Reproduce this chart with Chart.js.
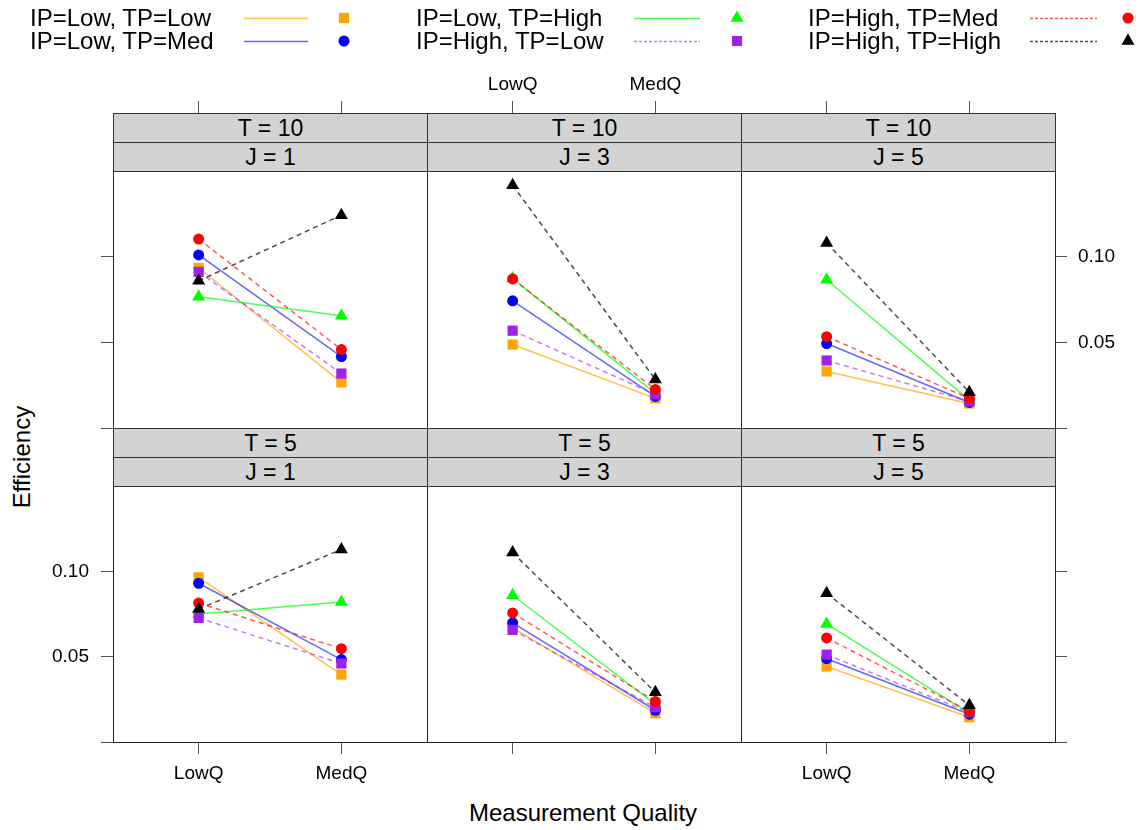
<!DOCTYPE html>
<html>
<head>
<meta charset="utf-8">
<title>Efficiency by measurement quality</title>
<script src="https://cdn.jsdelivr.net/npm/chart.js@4.4.0/dist/chart.umd.min.js"></script>
<style>
  body { margin: 0; background: #fff; font-family: "Liberation Sans", Arial, sans-serif; }
  #page { position: relative; width: 1144px; height: 830px; overflow: hidden; }
  canvas.panel { position: absolute; z-index: 1; }
  .strip { position: absolute; z-index: 2; background: #d3d3d3; border: 1px solid #333;
           box-sizing: border-box; text-align: center; font-size: 23px; color: #000; }
  .leg { position: absolute; font-size: 24px; color: #000; white-space: nowrap; line-height: 24px; }
  .lab { position: absolute; font-size: 24px; color: #000; white-space: nowrap; }
  #legendSymbols { position: absolute; left: 0; top: 0; }
</style>
</head>
<body>
<div id="page">
  <canvas id="legendSymbols" width="1144" height="60"></canvas>
  <div class="lab" style="left:583px; top:813px; transform:translate(-50%,-50%);">Measurement Quality</div>
  <div class="lab" style="left:22px; top:457px; transform:translate(-50%,-50%) rotate(-90deg);">Efficiency</div>
</div>
<script>
// x categories and y ticks
const quality = ['LowQ', 'MedQ'];
const qualityPos = [1, 2];
const effTicks = [0, 0.05, 0.10];
const effLabels = ['', '0.05', '0.10'];

// series (legend order)
const series = ['IP=Low, TP=Low', 'IP=Low, TP=Med', 'IP=Low, TP=High',
                'IP=High, TP=Low', 'IP=High, TP=Med', 'IP=High, TP=High'];
const colors = ['#FFA500', '#0000FF', '#00FF00', '#A020F0', '#FF0000', '#000000'];
const lineColors = ['rgba(255,165,0,0.7)', 'rgba(0,0,255,0.6)', 'rgba(0,255,0,0.7)',
                    'rgba(160,32,240,0.6)', 'rgba(255,0,0,0.65)', 'rgba(0,0,0,0.7)'];
const dashed = [false, false, false, true, true, true];
const shapes = ['rect', 'circle', 'triangle', 'rect', 'circle', 'triangle'];
const radii = [7.2, 5.5, 7.5, 7.2, 5.5, 7.5];

// panel strips
const tStrips = ['T = 10', 'T = 5'];
const jStrips = ['J = 1', 'J = 3', 'J = 5'];

// efficiency per panel: one [LowQ, MedQ] pair per series, in legend order
const t10_j1 = [[0.0934, 0.0266], [0.1010, 0.0417], [0.0766, 0.0655], [0.0911, 0.0318], [0.1103, 0.0458], [0.0859, 0.1242]];
const t10_j3 = [[0.0487, 0.0173], [0.0742, 0.0184], [0.0872, 0.0202], [0.0568, 0.0196], [0.0870, 0.0225], [0.1417, 0.0283]];
const t10_j5 = [[0.0330, 0.0143], [0.0493, 0.0149], [0.0865, 0.0161], [0.0394, 0.0155], [0.0533, 0.0173], [0.1080, 0.0208]];
const t5_j1  = [[0.0965, 0.0395], [0.0930, 0.0483], [0.0750, 0.0820], [0.0727, 0.0460], [0.0814, 0.0547], [0.0779, 0.1128]];
const t5_j3  = [[0.0669, 0.0169], [0.0698, 0.0186], [0.0860, 0.0221], [0.0657, 0.0203], [0.0756, 0.0238], [0.1110, 0.0291]];
const t5_j5  = [[0.0442, 0.0145], [0.0488, 0.0163], [0.0692, 0.0169], [0.0512, 0.0174], [0.0610, 0.0180], [0.0872, 0.0215]];
const panelData = [[t10_j1, t10_j3, t10_j5], [t5_j1, t5_j3, t5_j5]];

// layout
const colX = [113, 427, 741, 1055];
const rowY = [[171, 428], [486, 742]];
const M = 100;
const tickFont = { family: '"Liberation Sans", Arial, sans-serif', size: 19 };
const page = document.getElementById('page');

function fitM(scale) {
    if (scale.isHorizontal()) scale.height = M;
    else scale.width = M;
}

function setQTicks(scale) {
    scale.ticks = qualityPos.map(v => ({ value: v }));
}

function setEffTicks(scale) {
    scale.ticks = effTicks.map(v => ({ value: v }));
}

function qLabel(show) {
    return v => show ? quality[qualityPos.indexOf(v)] : '';
}

function effLabel(show) {
    return v => show ? effLabels[effTicks.indexOf(v)] : '';
}

function makePanel(r, c) {
    const left = colX[c], right = colX[c + 1];
    const top = rowY[r][0], bottom = rowY[r][1];

    // strips
    [tStrips[r], jStrips[c]].forEach((txt, k) => {
        const s = document.createElement('div');
        s.className = 'strip';
        s.style.left = left + 'px';
        s.style.width = (right - left + 1) + 'px';
        s.style.top = (top - 58 + k * 29) + 'px';
        s.style.height = '30px';
        s.style.lineHeight = '29px';
        s.textContent = txt;
        page.appendChild(s);
    });

    const cv = document.createElement('canvas');
    cv.className = 'panel';
    cv.width = right - left + 2 * M;
    cv.height = bottom - top + 2 * M;
    cv.style.left = (left - M) + 'px';
    cv.style.top = (top - M) + 'px';
    page.appendChild(cv);

    const values = panelData[r][c];
    const border = { display: true, color: '#222', width: 1 };

    new Chart(cv.getContext('2d'), {
        type: 'line',
        data: {
            datasets: series.map((name, i) => ({
                label: name,
                data: qualityPos.map((x, k) => ({ x: x, y: values[i][k] })),
                borderColor: lineColors[i],
                borderWidth: 1.5,
                borderDash: dashed[i] ? [5, 4] : [],
                pointStyle: shapes[i],
                pointRadius: radii[i],
                pointBackgroundColor: colors[i],
                pointBorderWidth: 0,
                order: series.length - 1 - i,
                clip: false
            }))
        },
        options: {
            responsive: false,
            animation: false,
            layout: { padding: 0 },
            plugins: { legend: { display: false }, tooltip: { enabled: false } },
            scales: {
                x: {
                    type: 'linear', position: 'bottom', min: 0.4, max: 2.6,
                    afterFit: fitM, afterBuildTicks: setQTicks, border: border,
                    grid: { display: r === 1, drawOnChartArea: false, tickLength: 12, color: '#555' },
                    ticks: { callback: qLabel(r === 1 && c !== 1), font: tickFont, color: '#000',
                             padding: 8, autoSkip: false, maxRotation: 0 }
                },
                x2: {
                    type: 'linear', position: 'top', min: 0.4, max: 2.6,
                    afterFit: fitM, afterBuildTicks: setQTicks, border: border,
                    grid: { display: r === 0, drawOnChartArea: false, tickLength: 70, color: '#555' },
                    ticks: { callback: qLabel(r === 0 && c === 1), font: tickFont, color: '#000',
                             padding: 5, autoSkip: false, maxRotation: 0 }
                },
                y: {
                    type: 'linear', position: 'left', min: 0, max: 0.15,
                    afterFit: fitM, afterBuildTicks: setEffTicks, border: border,
                    grid: { display: c === 0, drawOnChartArea: false, tickLength: 12, color: '#555' },
                    ticks: { callback: effLabel(c === 0 && r === 1), font: tickFont, color: '#000',
                             padding: 12, autoSkip: false }
                },
                y2: {
                    type: 'linear', position: 'right', min: 0, max: 0.15,
                    afterFit: fitM, afterBuildTicks: setEffTicks, border: border,
                    grid: { display: c === 2, drawOnChartArea: false, tickLength: 12, color: '#555' },
                    ticks: { callback: effLabel(c === 2 && r === 0), font: tickFont, color: '#000',
                             padding: 11, autoSkip: false }
                }
            }
        }
    });
}

for (let r = 0; r < 2; r++) {
    for (let c = 0; c < 3; c++) makePanel(r, c);
}

// legend: 3 columns x 2 rows
const legCols = [{ text: 30, line: [244, 308], mark: 344 },
                 { text: 416, line: [634, 700], mark: 737 },
                 { text: 808, line: [1030, 1097], mark: 1128 }];
const legRows = [18, 41];
const lctx = document.getElementById('legendSymbols').getContext('2d');
series.forEach((name, i) => {
    const col = legCols[Math.floor(i / 2)];
    const y = legRows[i % 2];

    const d = document.createElement('div');
    d.className = 'leg';
    d.style.left = col.text + 'px';
    d.style.top = (y - 12) + 'px';
    d.textContent = name;
    page.appendChild(d);

    lctx.save();
    lctx.strokeStyle = lineColors[i];
    lctx.lineWidth = 1.5;
    lctx.setLineDash(dashed[i] ? [3, 2] : []);
    lctx.beginPath();
    lctx.moveTo(col.line[0], y + 0.5);
    lctx.lineTo(col.line[1], y + 0.5);
    lctx.stroke();
    lctx.restore();

    lctx.fillStyle = colors[i];
    Chart.helpers.drawPoint(lctx, { pointStyle: shapes[i], radius: radii[i], rotation: 0, borderWidth: 0 }, col.mark, y);
});
</script>
</body>
</html>
